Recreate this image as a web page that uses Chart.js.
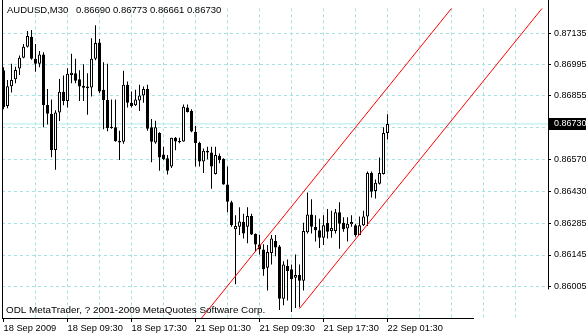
<!DOCTYPE html>
<html><head><meta charset="utf-8">
<script src="https://cdn.jsdelivr.net/npm/chart.js@4.4.0/dist/chart.umd.min.js"></script>
<style>html,body{margin:0;padding:0;background:#fff;overflow:hidden}canvas{display:block}</style>
</head><body>
<canvas id="c" width="586" height="336"></canvas>
<script>
const headerSymbol = 'AUDUSD,M30';
const footerText = 'ODL MetaTrader, ? 2001-2009 MetaQuotes Software Corp.';

// OHLC per M30 bar (bar index 0 = 18 Sep 2009 first visible bar)
const openP = [0.86970,0.86810,0.86898,0.86929,0.86978,0.87025,0.87075,0.87119,0.87021,0.86999,
0.87040,0.86815,0.86776,0.86614,0.86781,0.86874,0.86832,0.86948,0.86956,0.86930,
0.86900,0.86897,0.86893,0.87021,0.87094,0.86883,0.86837,0.86718,0.86715,0.86655,
0.86650,0.86905,0.86825,0.86813,0.86835,0.86857,0.86886,0.86715,0.86647,0.86689,
0.86594,0.86577,0.86540,0.86668,0.86654,0.86652,0.86803,0.86788,0.86695,0.86645,
0.86562,0.86610,0.86603,0.86507,0.86588,0.86574,0.86460,0.86380,0.86260,0.86271,
0.86292,0.86271,0.86319,0.86240,0.86192,0.86169,0.86088,0.86154,0.86208,0.86183,
0.85950,0.86096,0.86081,0.86044,0.86056,0.86030,0.86246,0.86326,0.86271,0.86256,
0.86222,0.86288,0.86252,0.86252,0.86336,0.86289,0.86263,0.86282,0.86278,0.86234,
0.86278,0.86317,0.86511,0.86431,0.86463,0.86507,0.86690];
const highP = [0.86983,0.86926,0.86999,0.86985,0.87036,0.87087,0.87145,0.87149,0.87087,0.87055,
0.87050,0.86886,0.86839,0.86791,0.86931,0.86946,0.86979,0.87043,0.87021,0.86970,
0.86996,0.86956,0.87112,0.87170,0.87109,0.87005,0.86999,0.86839,0.86839,0.86700,
0.86967,0.86919,0.86875,0.86883,0.86905,0.86897,0.86905,0.86752,0.86744,0.86693,
0.86628,0.86591,0.86668,0.86672,0.86668,0.86817,0.86817,0.86795,0.86721,0.86651,
0.86620,0.86628,0.86628,0.86628,0.86598,0.86577,0.86540,0.86387,0.86322,0.86358,
0.86329,0.86358,0.86329,0.86241,0.86235,0.86193,0.86190,0.86234,0.86234,0.86190,
0.86117,0.86125,0.86103,0.86147,0.86103,0.86289,0.86424,0.86394,0.86322,0.86307,
0.86322,0.86350,0.86343,0.86350,0.86380,0.86314,0.86314,0.86322,0.86285,0.86317,
0.86343,0.86518,0.86518,0.86482,0.86580,0.86715,0.86773];
const lowP = [0.86795,0.86800,0.86870,0.86912,0.86948,0.87023,0.87071,0.87017,0.86963,0.86983,
0.86715,0.86727,0.86581,0.86526,0.86743,0.86813,0.86803,0.86912,0.86912,0.86832,
0.86832,0.86771,0.86853,0.87014,0.86868,0.86706,0.86697,0.86708,0.86650,0.86569,
0.86642,0.86803,0.86803,0.86810,0.86788,0.86825,0.86700,0.86559,0.86642,0.86521,
0.86569,0.86504,0.86533,0.86613,0.86644,0.86650,0.86781,0.86693,0.86540,0.86540,
0.86511,0.86572,0.86441,0.86504,0.86555,0.86459,0.86336,0.86271,0.86015,0.86234,
0.86219,0.86197,0.86234,0.86161,0.86147,0.86052,0.85986,0.86103,0.86139,0.85899,
0.85921,0.85942,0.85891,0.85908,0.85912,0.85986,0.86241,0.86241,0.86205,0.86176,
0.86190,0.86219,0.86222,0.86241,0.86173,0.86249,0.86205,0.86271,0.86227,0.86234,
0.86275,0.86275,0.86402,0.86397,0.86460,0.86504,0.86661];
const closeP = [0.86804,0.86898,0.86926,0.86971,0.87025,0.87075,0.87123,0.87021,0.86999,0.87040,
0.86815,0.86776,0.86614,0.86781,0.86874,0.86832,0.86954,0.86958,0.86923,0.86897,
0.86891,0.86889,0.87021,0.87091,0.86875,0.86837,0.86712,0.86712,0.86653,0.86647,
0.86905,0.86825,0.86810,0.86839,0.86857,0.86886,0.86708,0.86650,0.86715,0.86580,
0.86574,0.86521,0.86668,0.86652,0.86648,0.86807,0.86783,0.86696,0.86645,0.86562,
0.86610,0.86603,0.86540,0.86591,0.86569,0.86460,0.86383,0.86278,0.86274,0.86295,
0.86241,0.86319,0.86237,0.86192,0.86170,0.86081,0.86158,0.86219,0.86179,0.85950,
0.86103,0.86074,0.86037,0.86056,0.86030,0.86252,0.86326,0.86271,0.86256,0.86222,
0.86278,0.86249,0.86266,0.86336,0.86285,0.86260,0.86285,0.86292,0.86234,0.86278,
0.86317,0.86511,0.86427,0.86467,0.86511,0.86689,0.86730];

// equidistant channel (bar index, price)
const channelUpperX = [48, 114];
const channelUpperY = [0.85830, 0.87290];
const channelLowerX = [74, 138];
const channelLowerY = [0.85906, 0.87320];

// axes
const priceTicks = [0.86005,0.86145,0.86285,0.86430,0.86570,0.86715,0.86855,0.86995,0.87135];
const timeTickBars = [0,16,32,48,64,80,96];
const timeTickLabels = ['18 Sep 2009','18 Sep 09:30','18 Sep 17:30','21 Sep 01:30','21 Sep 09:30','21 Sep 17:30','22 Sep 01:30'];
const gridBars = [0,8,16,24,32,40,48,56,64,72,80,88,96,104,112,120,128];
const yMin = 0.858638, yMax = 0.872457;

const FONT = '"Liberation Sans", Arial, sans-serif';
const GRID = '#a6e2e2';
const lastIdx = closeP.length - 1;
const lastPrice = closeP[lastIdx];

const bodies = openP.map((o, i) => ({x: i, y: [o, closeP[i]]}));
const wicks = openP.map((o, i) => ({x: i, y: [lowP[i], highP[i]]}));
const bodyColors = openP.map((o, i) => closeP[i] >= o ? '#ffffff' : '#000000');
const labelFor = v => { const k = timeTickBars.indexOf(v); return k >= 0 ? timeTickLabels[k] : ''; };

const decor = {
  id: 'decor',
  afterDraw(chart) {
    const c = chart.ctx, a = chart.chartArea, ys = chart.scales.y;
    c.save();
    c.strokeStyle = '#000'; c.lineWidth = 1;
    c.beginPath();
    c.moveTo(a.left + 0.5, 0); c.lineTo(a.left + 0.5, a.bottom + 1);
    c.moveTo(a.left, a.bottom + 0.5); c.lineTo(474, a.bottom + 0.5);
    c.moveTo(a.right + 0.5, 0); c.lineTo(a.right + 0.5, ys.getPixelForValue(priceTicks[0]) + 3);
    c.stroke();
    const py = Math.round(ys.getPixelForValue(lastPrice));
    c.fillStyle = '#000';
    c.fillRect(a.right + 1, py - 6, 586 - a.right - 1, 12);
    c.font = '9px ' + FONT;
    c.textBaseline = 'middle';
    c.fillStyle = '#fff';
    c.fillText(lastPrice.toFixed(5), a.right + 6, py);
    c.fillStyle = '#000';
    c.font = '9.5px ' + FONT;
    c.fillText(headerSymbol, 7, 10);
    c.fillText([openP[lastIdx], highP[lastIdx], lowP[lastIdx], closeP[lastIdx]].map(v => v.toFixed(5)).join(' '), 76, 10);
    c.font = '9.9px ' + FONT;
    c.fillText(footerText, 6, 310);
    c.restore();
  }
};

new Chart(document.getElementById('c'), {
  type: 'bar',
  data: {
    datasets: [
      {type: 'line', data: channelUpperX.map((x, i) => ({x, y: channelUpperY[i]})), borderColor: '#ff0000', borderWidth: 1, pointRadius: 0, clip: 0, order: 0},
      {type: 'line', data: channelLowerX.map((x, i) => ({x, y: channelLowerY[i]})), borderColor: '#ff0000', borderWidth: 1, pointRadius: 0, clip: 0, order: 0},
      {type: 'bar', data: bodies, backgroundColor: bodyColors, borderColor: '#000', borderWidth: 1, borderSkipped: false, barThickness: 3, grouped: false, minBarLength: 1, inflateAmount: 0, order: 1},
      {type: 'bar', data: wicks, backgroundColor: '#000', borderWidth: 0, barThickness: 1, grouped: false, inflateAmount: 0, order: 2},
      {type: 'line', data: [{x: -1, y: lastPrice}, {x: 140, y: lastPrice}], borderColor: '#aeeaea', borderWidth: 1, pointRadius: 0, clip: 0, order: 3}
    ]
  },
  options: {
    responsive: false, animation: false, devicePixelRatio: 1, events: [],
    layout: {padding: {left: 2, top: 2, right: 0, bottom: 0}},
    plugins: {legend: {display: false}, tooltip: {enabled: false}},
    scales: {
      x: {
        type: 'linear', position: 'bottom', min: -0.375, max: 136.125, offset: false,
        grid: {offset: false, lineWidth: 1, tickLength: 4,
          color: c => (c.tick && c.tick.value === 0) ? 'rgba(0,0,0,0)' : GRID,
          tickColor: c => (c.tick && labelFor(c.tick.value)) ? '#000' : 'rgba(0,0,0,0)'},
        border: {display: false, dash: [3, 3]},
        ticks: {autoSkip: false, maxRotation: 0, minRotation: 0, align: 'start', padding: 1, color: '#000',
          font: {family: FONT, size: 9.3}, callback: v => labelFor(v)},
        afterBuildTicks: s => { s.ticks = gridBars.map(v => ({value: v})); },
        afterFit: s => { s.height = 18; }
      },
      y: {
        type: 'linear', position: 'right', min: yMin, max: yMax,
        grid: {color: GRID, lineWidth: 1, tickLength: 3, tickColor: '#000'},
        border: {display: false, dash: [3, 3]},
        ticks: {padding: 3, color: '#000', font: {family: FONT, size: 9}, callback: v => Number(v).toFixed(5)},
        afterBuildTicks: s => { s.ticks = priceTicks.map(v => ({value: v})); },
        afterFit: s => { s.width = 38; }
      }
    }
  },
  plugins: [decor]
});
</script>
</body></html>
